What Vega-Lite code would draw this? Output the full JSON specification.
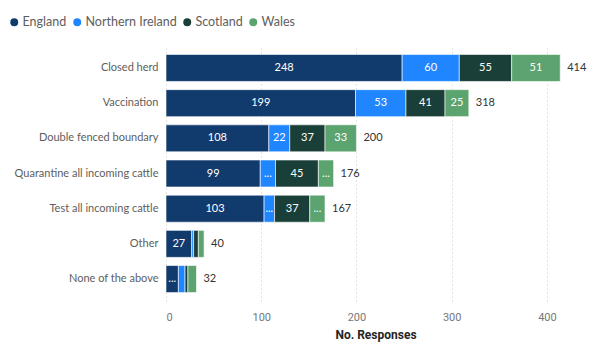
{
  "$schema": "https://vega.github.io/schema/vega-lite/v6.json",
  "width": 419,
  "height": 255,
  "autosize": {"type": "none"},
  "padding": {"left": 166, "top": 46, "right": 17, "bottom": 49},
  "background": "white",
  "config": {"view": {"stroke": null}, "font": "Lato"},
  "data": {
    "values": [
      {"measure": "Closed herd", "country": "England", "ord": 1, "value": 248},
      {"measure": "Closed herd", "country": "Northern Ireland", "ord": 2, "value": 60},
      {"measure": "Closed herd", "country": "Scotland", "ord": 3, "value": 55},
      {"measure": "Closed herd", "country": "Wales", "ord": 4, "value": 51},
      {"measure": "Vaccination", "country": "England", "ord": 1, "value": 199},
      {"measure": "Vaccination", "country": "Northern Ireland", "ord": 2, "value": 53},
      {"measure": "Vaccination", "country": "Scotland", "ord": 3, "value": 41},
      {"measure": "Vaccination", "country": "Wales", "ord": 4, "value": 25},
      {"measure": "Double fenced boundary", "country": "England", "ord": 1, "value": 108},
      {"measure": "Double fenced boundary", "country": "Northern Ireland", "ord": 2, "value": 22},
      {"measure": "Double fenced boundary", "country": "Scotland", "ord": 3, "value": 37},
      {"measure": "Double fenced boundary", "country": "Wales", "ord": 4, "value": 33},
      {"measure": "Quarantine all incoming cattle", "country": "England", "ord": 1, "value": 99},
      {"measure": "Quarantine all incoming cattle", "country": "Northern Ireland", "ord": 2, "value": 16},
      {"measure": "Quarantine all incoming cattle", "country": "Scotland", "ord": 3, "value": 45},
      {"measure": "Quarantine all incoming cattle", "country": "Wales", "ord": 4, "value": 16},
      {"measure": "Test all incoming cattle", "country": "England", "ord": 1, "value": 103},
      {"measure": "Test all incoming cattle", "country": "Northern Ireland", "ord": 2, "value": 11},
      {"measure": "Test all incoming cattle", "country": "Scotland", "ord": 3, "value": 37},
      {"measure": "Test all incoming cattle", "country": "Wales", "ord": 4, "value": 16},
      {"measure": "Other", "country": "England", "ord": 1, "value": 27},
      {"measure": "Other", "country": "Northern Ireland", "ord": 2, "value": 2},
      {"measure": "Other", "country": "Scotland", "ord": 3, "value": 5},
      {"measure": "Other", "country": "Wales", "ord": 4, "value": 6},
      {"measure": "None of the above", "country": "England", "ord": 1, "value": 13},
      {"measure": "None of the above", "country": "Northern Ireland", "ord": 2, "value": 7},
      {"measure": "None of the above", "country": "Scotland", "ord": 3, "value": 3},
      {"measure": "None of the above", "country": "Wales", "ord": 4, "value": 9}
    ]
  },
  "encoding": {
    "y": {
      "field": "measure",
      "type": "nominal",
      "sort": null,
      "scale": {"paddingInner": 0.232, "paddingOuter": 0.24},
      "axis": {
        "title": null,
        "domain": false,
        "ticks": false,
        "labelPadding": 8,
        "labelFont": "Lato",
        "labelFontSize": 11,
        "labelColor": "#605E5C"
      }
    }
  },
  "layer": [
    {
      "mark": {"type": "bar", "stroke": "white", "strokeWidth": 0.6},
      "encoding": {
        "x": {
          "field": "value",
          "type": "quantitative",
          "stack": "zero",
          "scale": {"domain": [0, 440], "nice": false},
          "axis": {
            "title": "No. Responses",
            "titleFont": "Roboto",
            "titleFontSize": 12,
            "titleFontWeight": "bold",
            "titleColor": "#252423",
            "titlePadding": 7,
            "values": [0, 100, 200, 300, 400],
            "domain": false,
            "ticks": false,
            "labelPadding": 10,
            "labelFont": "Roboto",
            "labelFontSize": 11,
            "labelColor": "#777777",
            "grid": true,
            "gridColor": "#C8C8C8",
            "gridDash": [1, 3],
            "gridWidth": 1
          }
        },
        "color": {
          "field": "country",
          "type": "nominal",
          "scale": {
            "domain": ["England", "Northern Ireland", "Scotland", "Wales"],
            "range": ["#123B6D", "#1F86FF", "#1A3F38", "#5BA36F"]
          },
          "legend": {
            "title": null,
            "orient": "none",
            "direction": "horizontal",
            "legendX": -158,
            "legendY": -30,
            "symbolType": "circle",
            "symbolSize": 90,
            "symbolOpacity": 1,
            "labelFont": "Lato",
            "labelFontSize": 12.5,
            "labelColor": "#605E5C",
            "labelOffset": 2,
            "columnPadding": 2
          }
        },
        "order": {"field": "ord", "type": "quantitative"}
      }
    },
    {
      "transform": [
        {"calculate": "datum.value >= 20 ? toString(datum.value) : (datum.value >= 10 ? '...' : '')", "as": "lbl"}
      ],
      "mark": {"type": "text", "color": "white", "fontSize": 11, "font": "Lato", "baseline": "middle", "align": "center"},
      "encoding": {
        "x": {"field": "value", "type": "quantitative", "stack": "zero", "bandPosition": 0.5},
        "text": {"field": "lbl"},
        "order": {"field": "ord", "type": "quantitative"},
        "detail": {"field": "country"}
      }
    },
    {
      "transform": [
        {"aggregate": [{"op": "sum", "field": "value", "as": "total"}], "groupby": ["measure"]}
      ],
      "mark": {"type": "text", "align": "left", "dx": 7, "fontSize": 11, "font": "Lato", "color": "#333333", "baseline": "middle"},
      "encoding": {
        "x": {"field": "total", "type": "quantitative"},
        "text": {"field": "total", "type": "quantitative"}
      }
    }
  ]
}
